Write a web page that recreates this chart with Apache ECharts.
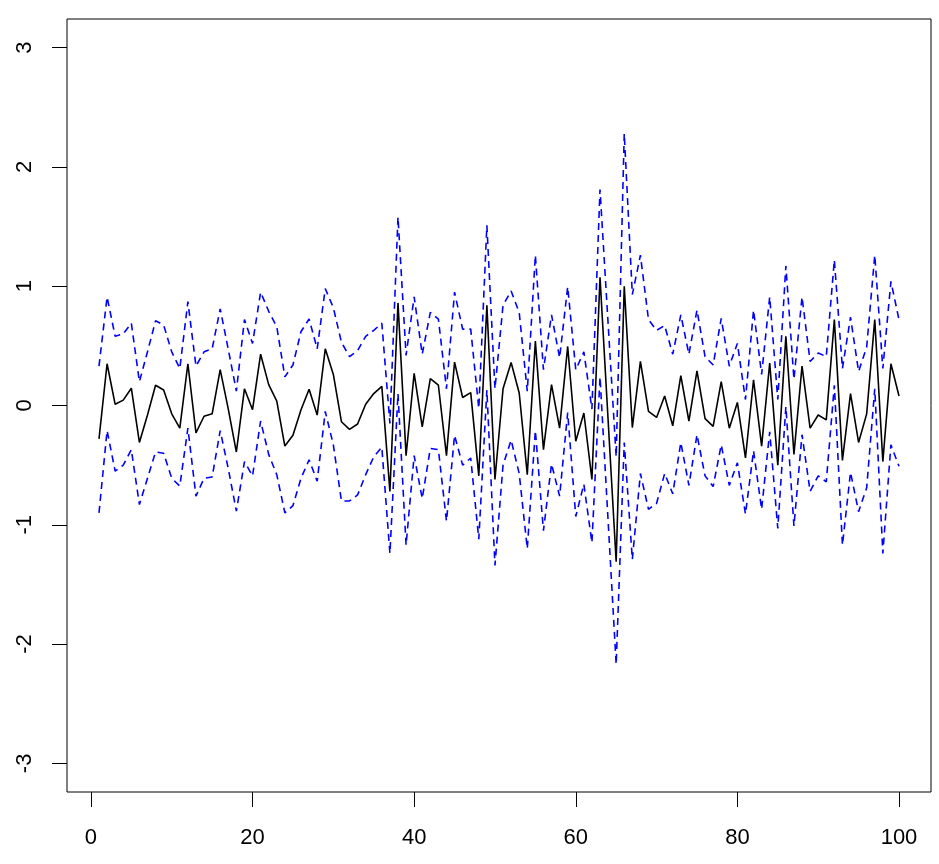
<!DOCTYPE html>
<html>
<head>
<meta charset="utf-8">
<script src="https://cdn.jsdelivr.net/npm/echarts@6/dist/echarts.min.js"></script>
<style>
html,body{margin:0;padding:0;background:#fff;}
#chart{width:939px;height:864px;}
</style>
</head>
<body>
<div id="chart"></div>
<script>
// x positions 1..100
var xs = [];
for (var k = 1; k <= 100; k++) xs.push(k);

var mid = [
 -0.28, 0.35, 0.01, 0.045, 0.145, -0.31, -0.08, 0.17, 0.13, -0.07,
 -0.19, 0.35, -0.23, -0.09, -0.07, 0.30, -0.03, -0.39, 0.14, -0.035,
 0.43, 0.175, 0.036, -0.34, -0.25, -0.035, 0.136, -0.08, 0.475, 0.26,
 -0.136, -0.2, -0.155, 0.01, 0.1, 0.16, -0.72, 0.86, -0.42, 0.27,
 -0.18, 0.225, 0.17, -0.42, 0.364, 0.067, 0.108, -0.59, 0.84, -0.62,
 0.14, 0.36, 0.105, -0.58, 0.54, -0.37, 0.175, -0.19, 0.495, -0.30,
 -0.063, -0.62, 1.075, -0.12, -1.31, 1.0, -0.185, 0.37, -0.05, -0.1,
 0.08, -0.17, 0.25, -0.13, 0.29, -0.11, -0.175, 0.2, -0.19, 0.026,
 -0.44, 0.216, -0.34, 0.356, -0.5, 0.58, -0.41, 0.33, -0.19, -0.08,
 -0.12, 0.72, -0.46, 0.1, -0.31, -0.07, 0.72, -0.47, 0.35, 0.08
];

var upper = [
 0.33, 0.91, 0.58, 0.6, 0.69, 0.2, 0.45, 0.71, 0.675, 0.45,
 0.31, 0.87, 0.33, 0.45, 0.475, 0.81, 0.47, 0.12, 0.72, 0.52,
 0.95, 0.79, 0.66, 0.24, 0.34, 0.62, 0.725, 0.475, 0.98, 0.82,
 0.53, 0.41, 0.46, 0.58, 0.63, 0.69, -0.15, 1.58, 0.42, 0.91,
 0.43, 0.78, 0.725, 0.14, 0.95, 0.64, 0.64, -0.025, 1.51, 0.14,
 0.84, 0.96, 0.78, 0.12, 1.26, 0.3, 0.76, 0.40, 0.995, 0.3,
 0.45, -0.03, 1.81, 0.69, -0.43, 2.28, 0.93, 1.26, 0.72, 0.63,
 0.67, 0.43, 0.76, 0.43, 0.80, 0.41, 0.34, 0.73, 0.33, 0.52,
 0.05, 0.80, 0.26, 0.91, 0.05, 1.17, 0.22, 0.91, 0.37, 0.44,
 0.41, 1.22, 0.31, 0.74, 0.285, 0.49, 1.26, 0.31, 1.04, 0.72
];

var lower = [
 -0.9, -0.21, -0.55, -0.5, -0.37, -0.83, -0.61, -0.39, -0.4, -0.61,
 -0.675, -0.19, -0.76, -0.61, -0.6, -0.21, -0.53, -0.886, -0.47, -0.59,
 -0.13, -0.41, -0.58, -0.9, -0.84, -0.61, -0.455, -0.635, -0.05, -0.33,
 -0.8, -0.8, -0.75, -0.58, -0.43, -0.35, -1.24, 0.1, -1.17, -0.42,
 -0.78, -0.36, -0.37, -0.97, -0.25, -0.5, -0.44, -1.12, 0.13, -1.34,
 -0.5, -0.29, -0.57, -1.2, -0.21, -1.05, -0.49, -0.76, -0.06, -0.93,
 -0.66, -1.15, 0.24, -0.965, -2.17, -0.31, -1.29, -0.57, -0.87, -0.82,
 -0.57, -0.74, -0.31, -0.67, -0.245, -0.59, -0.68, -0.33, -0.67, -0.48,
 -0.91, -0.38, -0.87, -0.22, -1.03, -0.01, -1.01, -0.245, -0.72, -0.59,
 -0.64, 0.17, -1.17, -0.56, -0.89, -0.69, 0.14, -1.24, -0.33, -0.51
];

var xTicks = [0, 20, 40, 60, 80, 100];
var yTicks = [-3, -2, -1, 0, 1, 2, 3];

function pairs(ys) {
  return xs.map(function (x, i) { return [x, ys[i]]; });
}

var chart = echarts.init(document.getElementById('chart'), null, {renderer: 'canvas'});
var font = 'Liberation Sans, Arial, Helvetica, sans-serif';
chart.setOption({
  animation: false,
  backgroundColor: '#ffffff',
  grid: {
    left: 67, right: 8, top: 19, bottom: 72,
    show: true, borderColor: '#000', borderWidth: 1, backgroundColor: 'transparent'
  },
  xAxis: {
    type: 'value',
    position: 'bottom',
    min: -2.96, max: 103.96,
    axisLine: {show: false, onZero: false},
    splitLine: {show: false},
    axisTick: {show: true, inside: false, length: 15, customValues: xTicks, lineStyle: {color: '#000', width: 1}},
    axisLabel: {show: true, customValues: xTicks, margin: 35, fontSize: 22, color: '#000', fontFamily: font}
  },
  yAxis: {
    type: 'value',
    position: 'left',
    min: -3.24, max: 3.24,
    axisLine: {show: false, onZero: false},
    splitLine: {show: false},
    axisTick: {show: true, inside: false, length: 15, customValues: yTicks, lineStyle: {color: '#000', width: 1}},
    axisLabel: {show: true, customValues: yTicks, rotate: 90, margin: 31, fontSize: 22, color: '#000', fontFamily: font}
  },
  series: [
    {type: 'line', data: pairs(mid), symbol: 'none', lineStyle: {color: '#000', width: 1.6, type: 'solid'}},
    {type: 'line', data: pairs(upper), symbol: 'none', lineStyle: {color: '#0000ff', width: 1.6, type: [7, 5]}},
    {type: 'line', data: pairs(lower), symbol: 'none', lineStyle: {color: '#0000ff', width: 1.6, type: [7, 5]}}
  ]
});
</script>
</body>
</html>
